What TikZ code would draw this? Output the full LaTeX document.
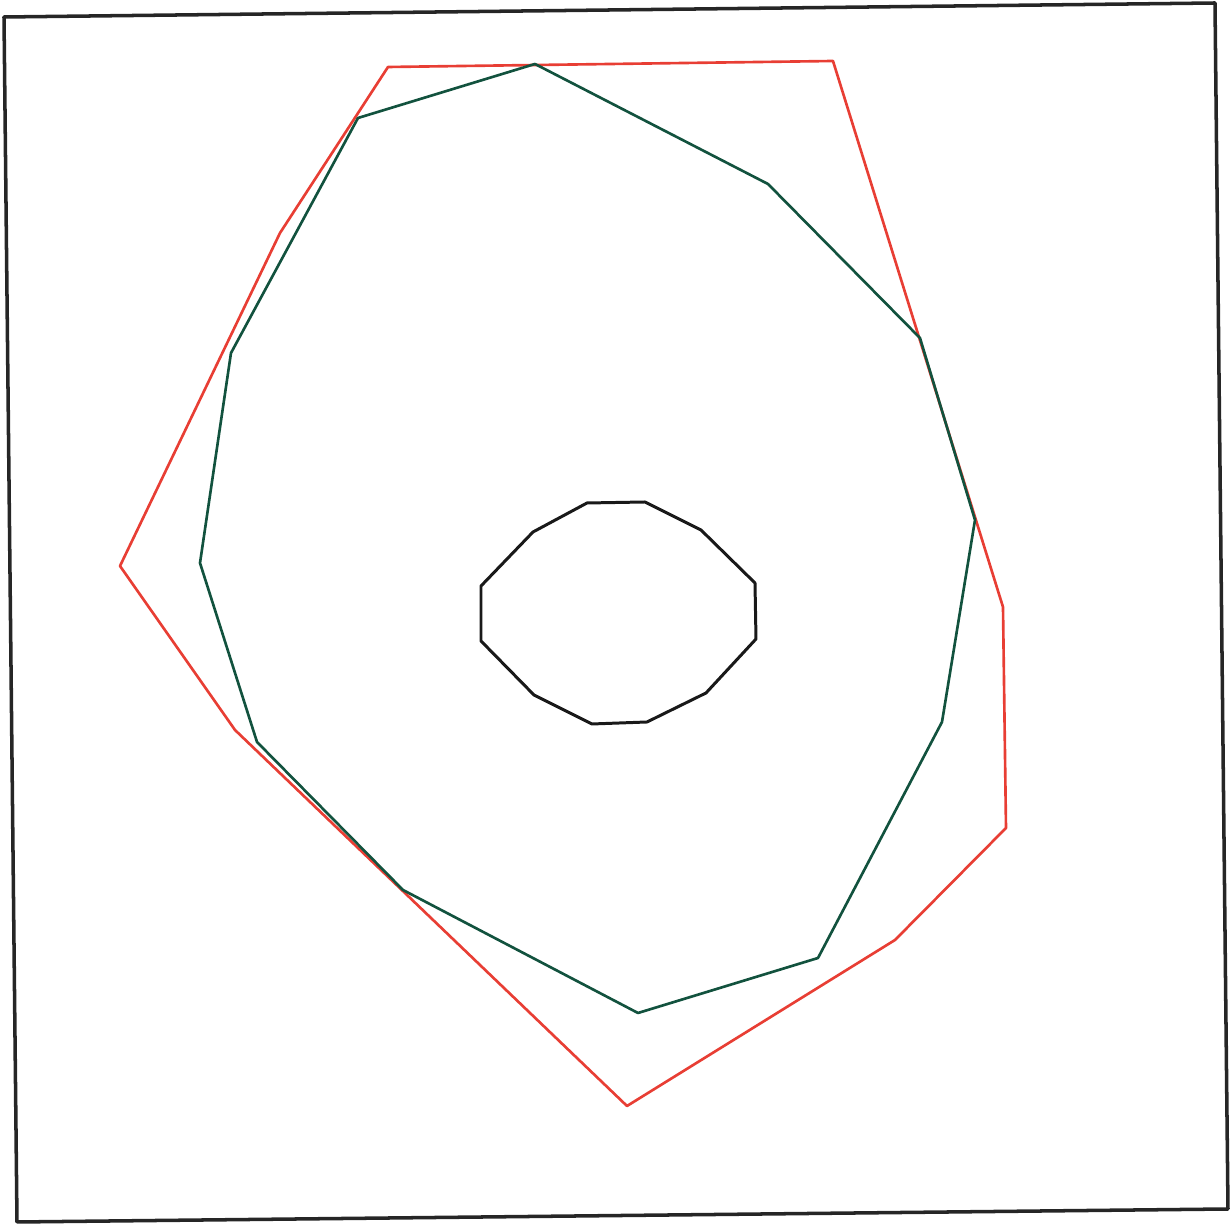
\documentclass[tikz,border=0pt]{standalone}
\usepackage{tikz}
\definecolor{penred}{RGB}{232,62,52}
\definecolor{pengreen}{RGB}{18,82,62}

\begin{document}
\begin{tikzpicture}[x=0.01cm, y=-0.01cm]
   \tikzstyle{frame} = [draw=black!85, line width=1pt, line join=round]
\tikzstyle{outer} = [draw=penred, line width=0.75pt, line join=round]
\tikzstyle{middle} = [draw=pengreen, line width=0.75pt, line join=round]
\tikzstyle{inner} = [draw=black!90, line width=0.85pt, line join=round]

\useasboundingbox (0,0) rectangle (1232,1225);

% frame
\draw [frame] (4,17) -- (1215,3) -- (1228,1209) -- (17,1222) -- cycle;

% outer polygon
\draw [outer] (388,67) -- (833,61) -- (1003,607) -- (1006,828) -- (895,940)
   -- (627,1106) -- (235,730) -- (120,566) -- (280,233) -- cycle;

% middle polygon
\draw [middle] (535,64) -- (768,184) -- (920,338) -- (975,520) -- (942,722)
   -- (818,958) -- (638,1013) -- (403,890) -- (257,742) -- (200,563)
   -- (231,353) -- (358,118) -- cycle;

% inner polygon
\draw [inner] (587,503) -- (645,502) -- (701,530) -- (755,583) -- (756,639)
   -- (706,693) -- (647,722) -- (592,724) -- (534,695) -- (481,641)
   -- (481,586) -- (533,532) -- cycle;
   \end{tikzpicture}
\end{document}
